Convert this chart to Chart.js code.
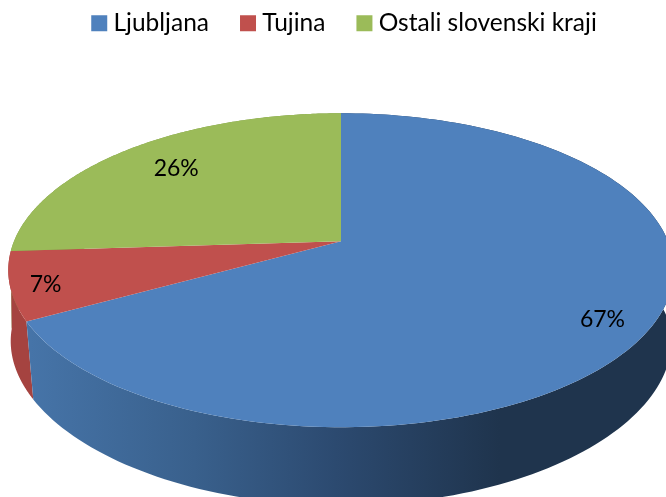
<!DOCTYPE html>
<html><head><meta charset="utf-8">
<style>html,body{margin:0;padding:0;background:#fff}#w{width:666px;height:497px;position:relative;overflow:hidden}</style>
<script src="https://cdn.jsdelivr.net/npm/chart.js@4"></script>
</head><body><div id="w"><canvas id="c" width="666" height="497"></canvas></div>
<script>
const categories = ['Ljubljana', 'Tujina', 'Ostali slovenski kraji'];
const shares = [67, 7, 26];
const topColors = ['#4F81BD', '#C0504D', '#9BBB59'];
const labelRadii = [0.87, 0.90, 0.765];
const labelAngleShift = [2.4, -1.4, 0.5];

const PERSPECTIVE = 0.1847, TILT = 0.4637, WALL_DEPTH = 78, WALL_NARROW = 0.045, SHIFT_X = -6;

function project(arc, angle, r) {
  const u = Math.cos(angle) * r, v = Math.sin(angle) * r;
  const d = 1 - PERSPECTIVE * v;
  return [arc.x + SHIFT_X + arc.outerRadius * u / d, arc.y + arc.outerRadius * TILT * v / d];
}
function wallFill(ctx, index) {
  if (index === 1) return '#A54340';
  const g = ctx.createLinearGradient(30, 0, 500, 0);
  g.addColorStop(0, '#4674A8');
  g.addColorStop(0.35, '#39608C');
  g.addColorStop(0.65, '#2C4A70');
  g.addColorStop(1, '#1F344D');
  return index === 0 ? g : '#7E9A49';
}
const perspectivePie = {
  id: 'perspectivePie',
  beforeDatasetDraw(chart) {
    const ctx = chart.ctx, arcs = chart.getDatasetMeta(0).data, N = 160;
    const cx = arcs[0].x + SHIFT_X;
    [2, 1, 0].forEach(i => {
      const a = arcs[i], pts = [];
      for (let k = 0; k <= N; k++) {
        const t = a.startAngle + (a.endAngle - a.startAngle) * k / N;
        const p = project(a, t, 1);
        pts.push([p[0], p[1], Math.max(0, Math.sin(t))]);
      }
      ctx.beginPath();
      pts.forEach((p, k) => k ? ctx.lineTo(p[0], p[1]) : ctx.moveTo(p[0], p[1]));
      for (let k = N; k >= 0; k--) {
        ctx.lineTo(cx + (pts[k][0] - cx) * (1 - WALL_NARROW * pts[k][2]), pts[k][1] + WALL_DEPTH);
      }
      ctx.closePath();
      ctx.fillStyle = wallFill(ctx, i);
      ctx.fill();
    });
    arcs.forEach((a, i) => {
      ctx.beginPath();
      const c = project(a, 0, 0);
      ctx.moveTo(c[0], c[1]);
      for (let k = 0; k <= N; k++) {
        const p = project(a, a.startAngle + (a.endAngle - a.startAngle) * k / N, 1);
        ctx.lineTo(p[0], p[1]);
      }
      ctx.closePath();
      ctx.fillStyle = topColors[i];
      ctx.fill();
    });
    ctx.font = '23px Lato';
    ctx.fillStyle = '#000';
    ctx.textAlign = 'center';
    ctx.textBaseline = 'middle';
    arcs.forEach((a, i) => {
      const mid = (a.startAngle + a.endAngle) / 2 + labelAngleShift[i] * Math.PI / 180;
      const p = project(a, mid, labelRadii[i]);
      ctx.fillText(shares[i] + '%', p[0], p[1]);
    });
    return false;
  }
};
new Chart(document.getElementById('c'), {
  type: 'pie',
  data: { labels: categories, datasets: [{ data: shares, backgroundColor: topColors, borderWidth: 0 }] },
  options: {
    responsive: false, animation: false, radius: 327,
    layout: { padding: { top: -26, left: 28, right: 0, bottom: 60 } },
    plugins: {
      tooltip: { enabled: false },
      legend: {
        position: 'top',
        labels: { usePointStyle: true, pointStyle: 'rect', boxWidth: 4, boxHeight: 16, padding: 37, color: '#000', font: { family: 'Lato', size: 24.5 } }
      }
    }
  },
  plugins: [perspectivePie]
});
</script></body></html>
